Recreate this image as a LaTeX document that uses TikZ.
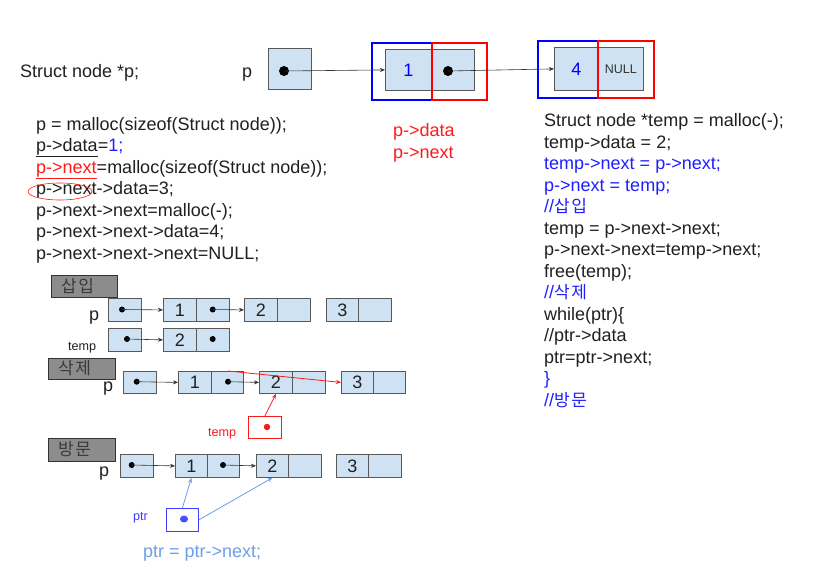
\documentclass[tikz,border=0pt]{standalone}
\usepackage{fontspec}
\setmainfont{Liberation Sans}
\newfontfamily\kr{Noto Sans CJK KR}
\usetikzlibrary{arrows.meta,shapes.geometric}
\definecolor{cellfill}{HTML}{CFE2F3}
\definecolor{celldraw}{HTML}{595959}
\definecolor{txt}{HTML}{202020}
\definecolor{cblue}{HTML}{1F1FFF}
\definecolor{cred}{HTML}{FF1A1A}
\definecolor{lblue}{HTML}{6D9EEB}
\definecolor{pblue}{HTML}{3C3CFF}
\definecolor{lgray}{HTML}{8C8C8C}
\definecolor{lgtext}{HTML}{3A3A3A}
\definecolor{arrcol}{HTML}{333333}
\newcommand{\krs}{\hspace{1.5pt}}
\begin{document}
\begin{tikzpicture}[x=1pt,y=-1pt,
  cell/.style={draw=celldraw, fill=cellfill, line width=0.8pt, inner sep=0pt, anchor=north west, font=\fontsize{18}{18}\selectfont, text=txt},
  labbox/.style={draw=arrcol, fill=lgray, line width=0.8pt, inner sep=0pt, anchor=north west},
  labtext/.style={anchor=west, inner sep=0pt, text=lgtext, font=\kr\fontsize{17}{17}\selectfont},
  code/.style={anchor=base west, inner sep=0pt, text=txt, font=\fontsize{18}{18}\selectfont},
  small/.style={anchor=base west, inner sep=0pt, font=\fontsize{12.6}{13}\selectfont},
  bigdot/.style={circle, fill=black, inner sep=0pt, minimum size=10pt},
  sdot/.style={circle, fill=black, inner sep=0pt, minimum size=6pt},
  arr/.style={draw=arrcol, line width=0.6pt, -{Stealth[length=5pt,width=4pt]}},
  redarr/.style={draw=cred, line width=0.8pt, -{Stealth[length=5pt,width=4pt]}},
  bluearr/.style={draw=lblue, line width=0.8pt, -{Stealth[length=5pt,width=4pt]}},
  bframe/.style={draw=blue, line width=2.8pt},
  rframe/.style={draw=red, line width=2.8pt}
]
\useasboundingbox[fill=white] (0,0) rectangle (837,573);

% ---------- top ----------
\node[code] (tp1) at (20,77) {Struct node *p;};
\node[code] (tp2) at (242,77) {p};
\node[cell, minimum width=43pt, minimum height=41pt] (pbox) at (268,48) {};
\node[cell, minimum width=46pt, minimum height=41pt, text=blue] (n1d) at (385,49) {1};
\node[cell, minimum width=43pt, minimum height=41pt] (n1n) at (431,49) {};
\node[cell, minimum width=44pt, minimum height=43pt, text=blue] (n4d) at (554,47) {4};
\node[cell, minimum width=45pt, minimum height=43pt, font=\fontsize{12.5}{13}\selectfont, text=arrcol] (n4n) at (598,47) {NULL};
\draw[bframe] (372,43) rectangle (432,100);
\draw[rframe] (432,43) rectangle (487,100);
\draw[bframe] (538,41) rectangle (598,98);
\draw[rframe] (598,41) rectangle (654,98);
\node[bigdot] (d0) at (284,71) {};
\node[bigdot] (d1) at (448,71) {};
\draw[arr] (d0.center) -- (n1d.west);
\draw[arr] (d1.center) -- (n4d.west);

\node[code, text=cred] (pd) at (393,136.7) {p->data};
\node[code, text=cred] (pn) at (393,158.3) {p->next};

% ---------- left code ----------
\node[code] (l1) at (36,130) {p = malloc(sizeof(Struct node));};
\node[code] (l2) at (36,151.5) {\underline{p->data}=\textcolor{cblue}{1;}};
\node[code] (l3) at (36,173) {\textcolor{cred}{\underline{p->next}}=malloc(sizeof(Struct node));};
\node[code] (l4) at (36,194.5) {p->next->data=3;};
\node[code] (l5) at (36,216) {p->next->next=malloc(-);};
\node[code] (l6) at (36,237.5) {p->next->next->data=4;};
\node[code] (l7) at (36,259) {p->next->next->next=NULL;};
\draw[cred, line width=0.6pt] (60,191.5) ellipse [x radius=32pt, y radius=8.5pt];

% ---------- right code ----------
\node[code] (r1) at (544,126.7) {Struct node *temp = malloc(-);};
\node[code] (r2) at (544,148.2) {temp->data = 2;};
\node[code, text=cblue] (r3) at (544,169.7) {temp->next = p->next;};
\node[code, text=cblue] (r4) at (544,191.2) {p->next = temp;};
\node[code, text=cblue] (r5) at (544,212.7) {//{\kr\fontsize{17}{17}\selectfont 삽\krs 입}};
\node[code] (r6) at (544,234.2) {temp = p->next->next;};
\node[code] (r7) at (544,255.7) {p->next->next=temp->next;};
\node[code] (r8) at (544,277.2) {free(temp);};
\node[code, text=cblue] (r9) at (544,298.7) {//{\kr\fontsize{17}{17}\selectfont 삭\krs 제}};
\node[code] (r10) at (544,320.2) {while(ptr)\{};
\node[code] (r11) at (544,341.7) {//ptr->data};
\node[code] (r12) at (544,363.2) {ptr=ptr->next;};
\node[code, text=cblue] (r13) at (544,384.7) {\}};
\node[code, text=cblue] (r14) at (544,406.2) {//{\kr\fontsize{17}{17}\selectfont 방\krs 문}};

% ---------- insert ----------
\node[labbox, minimum width=66pt, minimum height=22pt] (lab1) at (51,275) {};
\node[labtext] (lab1t) at (61,286) {삽\krs 입};
\node[code] (p1l) at (89,320.7) {p};
\node[cell, minimum width=33pt, minimum height=23pt] (b1) at (108,298) {};
\node[cell, minimum width=33pt, minimum height=23pt] (r1a) at (163,298) {1};
\node[cell, minimum width=33pt, minimum height=23pt] (r1b) at (196,298) {};
\node[cell, minimum width=33pt, minimum height=23pt] (r1c) at (244,298) {2};
\node[cell, minimum width=33pt, minimum height=23pt] (r1d) at (277,298) {};
\node[cell, minimum width=32pt, minimum height=23pt] (r1e) at (326,298) {3};
\node[cell, minimum width=33pt, minimum height=23pt] (r1f) at (358,298) {};
\node[sdot] (e10) at (122,309.5) {};
\node[sdot] (e11) at (212.7,309.5) {};
\draw[arr] (e10.center) -- (r1a.west);
\draw[arr] (e11.center) -- (r1c.west);

\node[small, text=txt] (t2l) at (68,350) {temp};
\node[cell, minimum width=33pt, minimum height=23pt] (b2) at (108,328) {};
\node[cell, minimum width=33pt, minimum height=23pt] (r2a) at (163,328) {2};
\node[cell, minimum width=33pt, minimum height=23pt] (r2b) at (196,328) {};
\node[sdot] (e20) at (127,339) {};
\node[sdot] (e21) at (212.7,339) {};
\draw[arr] (e20.center) -- (r2a.west);

% ---------- delete ----------
\node[labbox, minimum width=67pt, minimum height=21pt] (lab2) at (48,358) {};
\node[labtext] (lab2t) at (58,368.5) {삭\krs 제};
\node[code] (p3l) at (103,391.7) {p};
\node[cell, minimum width=33pt, minimum height=22pt] (b3) at (123,371) {};
\node[cell, minimum width=33pt, minimum height=22pt] (r3a) at (178,371) {1};
\node[cell, minimum width=32pt, minimum height=22pt] (r3b) at (211,371) {};
\node[cell, minimum width=33pt, minimum height=22pt] (r3c) at (259,371) {2};
\node[cell, minimum width=33pt, minimum height=22pt] (r3d) at (292,371) {};
\node[cell, minimum width=32pt, minimum height=22pt] (r3e) at (341,371) {3};
\node[cell, minimum width=32pt, minimum height=22pt] (r3f) at (373,371) {};
\node[sdot] (e30) at (136.7,381.7) {};
\node[sdot] (e31) at (228,381.7) {};
\draw[arr] (e30.center) -- (r3a.west);
\draw[arr] (e31.center) -- (r3c.west);
\coordinate (redstart) at (228,371);
\draw[redarr] (redstart) -- (r3e.west);
\node[small, text=cred] (tl) at (208,436.7) {temp};
\node[draw=cred, line width=0.8pt, fill=white, inner sep=0pt, anchor=north west, minimum width=33pt, minimum height=22pt] (tbox) at (248,416) {};
\node[circle, fill=cred, inner sep=0pt, minimum size=6.5pt] (tdot) at (267,427) {};
\draw[redarr] (tbox.north) -- (r3c.south);

% ---------- visit ----------
\node[labbox, minimum width=67pt, minimum height=23pt] (lab3) at (48,438) {};
\node[labtext] (lab3t) at (58,449.5) {방\krs 문};
\node[code] (p4l) at (99,476.7) {p};
\node[cell, minimum width=33pt, minimum height=23pt] (b4) at (120,454) {};
\node[cell, minimum width=32pt, minimum height=23pt] (r4a) at (175,454) {1};
\node[cell, minimum width=32pt, minimum height=23pt] (r4b) at (207,454) {};
\node[cell, minimum width=32pt, minimum height=23pt] (r4c) at (256,454) {2};
\node[cell, minimum width=33pt, minimum height=23pt] (r4d) at (288,454) {};
\node[cell, minimum width=32pt, minimum height=23pt] (r4e) at (336,454) {3};
\node[cell, minimum width=33pt, minimum height=23pt] (r4f) at (368,454) {};
\node[sdot] (e40) at (131.7,465) {};
\node[sdot] (e41) at (223,465) {};
\draw[arr] (e40.center) -- (r4a.west);
\draw[arr] (e41.center) -- (r4c.west);
\node[small, text=pblue] (ptrl) at (133,520.7) {ptr};
\node[draw=pblue, line width=0.8pt, fill=white, inner sep=0pt, anchor=north west, minimum width=32pt, minimum height=23pt] (ptrbox) at (166,508) {};
\node[ellipse, fill=pblue!80!lblue, inner sep=0pt, minimum width=8pt, minimum height=7pt] (pdot) at (184,519) {};
\draw[bluearr] (ptrbox.north) -- (r4a.south);
\draw[bluearr] (ptrbox.east) -- (r4c.south);
\node[code, text=lblue] (ptrcode) at (143,557) {ptr = ptr->next;};
\end{tikzpicture}
\end{document}
